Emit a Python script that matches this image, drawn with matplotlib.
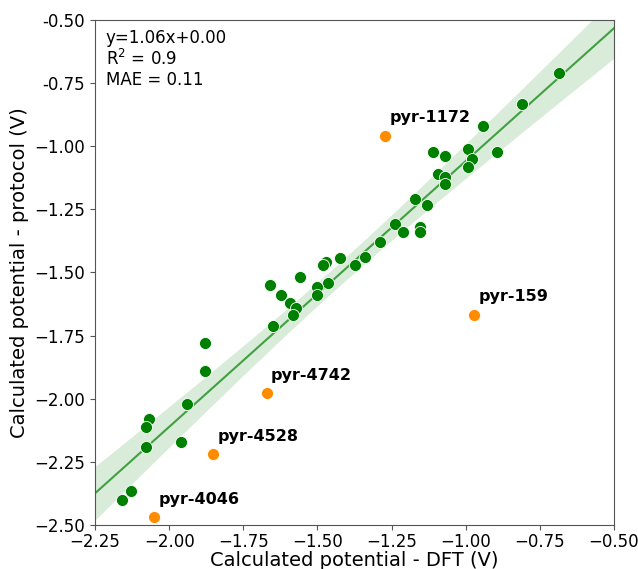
import matplotlib
matplotlib.use('Agg')
import matplotlib.pyplot as plt
import numpy as np

# green points: DFT vs protocol potentials (V)
dft = [-0.685, -0.811, -0.943, -0.894, -1.111, -1.071, -0.993, -0.980, -0.993, -1.095,
       -1.071, -1.071, -1.170, -1.132, -1.240, -1.213, -1.153, -1.153, -1.290, -1.341,
       -1.372, -1.423, -1.472, -1.481, -1.463, -1.500, -1.500, -1.560, -1.660, -1.623,
       -1.592, -1.572, -1.582, -1.651, -1.879, -1.879, -1.941, -2.069, -2.079, -2.078,
       -1.961, -2.129, -2.160]
protocol = [-0.709, -0.831, -0.920, -1.023, -1.023, -1.040, -1.011, -1.052, -1.081, -1.110,
            -1.121, -1.151, -1.210, -1.231, -1.308, -1.341, -1.319, -1.341, -1.378, -1.440,
            -1.470, -1.441, -1.460, -1.471, -1.540, -1.559, -1.590, -1.519, -1.551, -1.588,
            -1.621, -1.639, -1.668, -1.710, -1.779, -1.890, -2.020, -2.081, -2.111, -2.191,
            -2.170, -2.367, -2.401]

# outliers (orange, labelled)
out_names = ['pyr-1172', 'pyr-159', 'pyr-4742', 'pyr-4528', 'pyr-4046']
out_dft = [-1.272, -0.972, -1.671, -1.851, -2.051]
out_protocol = [-0.959, -1.668, -1.978, -2.220, -2.470]

xticks = [-2.25, -2.00, -1.75, -1.50, -1.25, -1.00, -0.75, -0.50]
yticks = [-2.50, -2.25, -2.00, -1.75, -1.50, -1.25, -1.00, -0.75, -0.50]
ytick_labels = ['\u22122.50', '\u22122.25', '\u22122.00', '\u22121.75', '\u22121.50',
                '\u22121.25', '\u22121.00', '-0.75', '-0.50']

fig = plt.figure(figsize=(6.38, 5.69), dpi=100)
ax = fig.add_axes([0.1489, 0.0773, 0.8135, 0.8876])

# regression over all points (green + orange) with 95% confidence band
x = np.concatenate([dft, out_dft])
y = np.concatenate([protocol, out_protocol])
slope, intercept = np.polyfit(x, y, 1)
xs = np.linspace(-2.25, -0.5, 200)
ys = slope * xs + intercept
n = len(x)
resid = y - (slope * x + intercept)
s = np.sqrt(np.sum(resid ** 2) / (n - 2))
se = s * np.sqrt(1 / n + (xs - x.mean()) ** 2 / np.sum((x - x.mean()) ** 2))
band = 2.1 * se
ax.fill_between(xs, ys - band, ys + band, color='green', alpha=0.15, linewidth=0, zorder=1)
ax.plot(xs, ys, color='green', alpha=0.7, linewidth=1.5, zorder=2)

ax.scatter(dft, protocol, s=75, color='green', edgecolor='white', linewidth=0.6, zorder=3)
ax.scatter(out_dft, out_protocol, s=75, color='darkorange', edgecolor='white',
           linewidth=0.6, zorder=3)

for name, xo, yo in zip(out_names, out_dft, out_protocol):
    ax.annotate(name, (xo, yo), xytext=(3, 13), textcoords='offset points',
                ha='left', va='center', fontsize=11.5, fontweight='bold')

ax.text(0.021, 0.983, 'y=1.06x+0.00\nR$^2$ = 0.9\nMAE = 0.11', transform=ax.transAxes,
        ha='left', va='top', fontsize=12, linespacing=1.15)

ax.set_xlim(-2.25, -0.5)
ax.set_ylim(-2.5, -0.5)
ax.set_xticks(xticks)
ax.set_yticks(yticks)
ax.set_yticklabels(ytick_labels)
ax.tick_params(labelsize=12, color='#555555')
ax.tick_params(axis='x', pad=2)
for sp in ax.spines.values():
    sp.set_color('#555555')

ax.set_xlabel('Calculated potential - DFT (V)', fontsize=14, labelpad=0)
ax.set_ylabel('Calculated potential - protocol (V)', fontsize=14)

fig.savefig('out.png', dpi=100)
